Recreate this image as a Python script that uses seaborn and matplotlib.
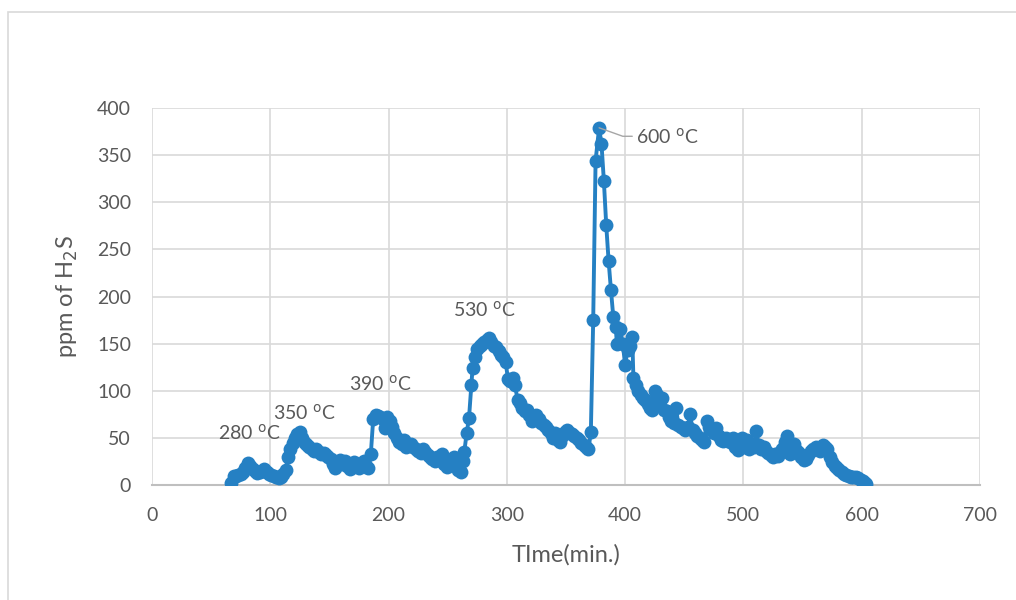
import numpy as np
import pandas as pd
import matplotlib
matplotlib.use("Agg")
import matplotlib.pyplot as plt
from matplotlib.patches import Rectangle
import seaborn as sns

# H2S concentration during stepwise heating (280, 350, 390, 530, 600 °C)
time_280_390 = [67, 69, 71, 73, 75, 77, 79, 81, 83, 85, 87, 89, 91, 93, 95, 97, 99, 101,
                103, 105, 107, 109, 111, 113, 115, 117, 119, 121, 123, 125, 127, 129, 131,
                133, 135, 137, 139, 141, 143, 145, 147, 149, 151, 153, 155, 157, 159, 161,
                163, 165, 167, 169, 171, 173, 175, 177, 179, 181, 183, 185]
ppm_280_390 = [2, 10, 10, 11, 12, 14, 18, 23, 20, 17, 15, 13, 14, 15, 17, 14, 12, 11,
               10, 9, 7, 9, 12, 16, 30, 38, 45, 50, 54, 56, 50, 45, 42,
               40, 38, 36, 38, 35, 33, 34, 32, 30, 28, 22, 18, 24, 26, 22,
               25, 20, 17, 22, 24, 20, 18, 22, 25, 20, 18, 33]

time_390_600 = [187, 189, 191, 193, 195, 197, 199, 201, 203, 205, 207, 209, 211, 213, 215,
                217, 219, 221, 223, 225, 227, 229, 231, 233, 235, 237, 239, 241, 243, 245,
                247, 249, 251, 253, 255, 257, 259, 261, 263, 264, 266, 268, 270, 271, 273,
                275, 277, 279, 281, 283, 285, 287, 289, 291, 293, 295, 297, 299, 301, 303,
                305, 307, 309, 311, 313, 315, 317, 319, 321, 323, 325, 327, 329, 331, 333,
                335, 337, 339, 341, 343, 345, 347, 349, 351, 353, 355, 357, 359, 361, 363,
                365, 367, 369, 371]
ppm_390_600 = [70, 74, 73, 72, 70, 60, 72, 68, 62, 55, 50, 46, 44, 48, 40,
               42, 44, 40, 38, 36, 34, 38, 35, 32, 30, 28, 25, 30, 27, 33,
               22, 19, 24, 28, 30, 22, 16, 14, 25, 35, 55, 71, 106, 124, 136,
               144, 148, 150, 152, 154, 156, 152, 148, 146, 142, 138, 136, 130, 112, 110,
               114, 106, 90, 87, 82, 78, 80, 74, 68, 72, 74, 70, 66, 64, 62,
               58, 55, 50, 55, 48, 46, 52, 56, 58, 55, 54, 52, 50, 48, 45,
               42, 40, 38, 56]

time_600 = [373, 375, 378, 380, 382, 384, 386, 388, 390, 392, 393, 396, 398, 400, 402,
            404, 406, 407, 409, 411, 413, 415, 417, 419, 421, 423, 425, 427, 429, 431,
            433, 435, 437, 439, 441, 443, 445, 447, 449, 451, 453, 455, 457, 459, 461,
            463, 465, 467, 469, 471, 473, 475, 477, 479, 481, 483, 485, 487, 489, 491,
            493, 495, 497, 499, 501, 503, 505, 507, 509, 511, 513, 515, 517, 519, 521,
            523, 525, 527, 529, 531, 533, 535, 537, 539, 541, 543, 545, 547, 549, 551,
            553, 555, 557, 559, 561, 563, 565, 567, 569, 571, 573, 575, 577, 579, 581,
            583, 585, 587, 589, 591, 593, 595, 597, 599, 601, 603, 604]
ppm_600 = [175, 344, 379, 362, 323, 276, 238, 207, 178, 168, 150, 165, 150, 127, 143,
           148, 157, 113, 106, 100, 96, 92, 90, 86, 82, 80, 100, 95, 88, 92,
           80, 78, 72, 68, 66, 82, 64, 62, 60, 58, 62, 75, 58, 55, 52,
           50, 48, 46, 68, 62, 58, 55, 60, 52, 48, 47, 50, 48, 46, 50,
           40, 37, 45, 50, 40, 48, 38, 44, 40, 57, 42, 38, 40, 36, 34,
           32, 30, 33, 31, 35, 38, 46, 52, 33, 38, 44, 36, 34, 30, 27,
           28, 32, 36, 38, 40, 38, 36, 42, 40, 38, 30, 24, 20, 18, 16,
           14, 12, 11, 10, 9, 8, 8, 7, 5, 4, 2, 1]

temp_labels = ["280 $^{\\mathrm{o}}$C", "350 $^{\\mathrm{o}}$C", "390 $^{\\mathrm{o}}$C",
               "530 $^{\\mathrm{o}}$C", "600 $^{\\mathrm{o}}$C"]
label_time = [82, 129, 193, 281, 409]
label_ppm = [56, 77, 107, 186, 370]

x_ticks = [0, 100, 200, 300, 400, 500, 600, 700]
y_ticks = [0, 50, 100, 150, 200, 250, 300, 350, 400]

df = pd.DataFrame({
    "time": time_280_390 + time_390_600 + time_600,
    "ppm": ppm_280_390 + ppm_390_600 + ppm_600,
})

sns.set_theme(style="white")
plt.rcParams["font.family"] = ["Lato", "DejaVu Sans"]

blue = "#2580C3"
text_grey = "#595959"

fig = plt.figure(figsize=(10.16, 6.0), dpi=100)
ax = fig.add_axes([152 / 1016, 1 - 485 / 600, (980 - 152) / 1016, (485 - 108) / 600])

# chart-area frame
fig.patches.append(Rectangle((8 / 1016, -0.1), 1.2, 1 - 12 / 600 + 0.1,
                             transform=fig.transFigure, fill=False,
                             edgecolor="#D9D9D9", linewidth=1.2, zorder=0))

sns.lineplot(data=df, x="time", y="ppm", ax=ax, color=blue, linewidth=2.8,
             marker="o", markersize=10, markeredgewidth=0, estimator=None,
             sort=False, zorder=3)

ax.set_xlim(0, 700)
ax.set_ylim(0, 400)
ax.set_xticks(x_ticks)
ax.set_yticks(y_ticks)
ax.grid(True, color="#D9D9D9", linewidth=1.2)
ax.set_axisbelow(True)
for side in ["top", "right", "left"]:
    ax.spines[side].set_visible(False)
ax.spines["bottom"].set_color("#BFBFBF")
ax.spines["bottom"].set_linewidth(1.5)
ax.tick_params(length=0, labelsize=14, colors=text_grey)
ax.tick_params(axis="x", pad=16)
ax.tick_params(axis="y", pad=15)

ax.set_xlabel("TIme(min.)", fontsize=17, color=text_grey, labelpad=14)
ax.set_ylabel("ppm of H$_2$S", fontsize=17, color=text_grey, labelpad=12)

for i, (lab, tx, ty) in enumerate(zip(temp_labels, label_time, label_ppm)):
    ha = "left" if i == 4 else "center"
    ax.text(tx, ty, lab, fontsize=14, color=text_grey, ha=ha, va="center",
            zorder=5)

# leader line to the 600 °C peak
peak_t, peak_v = time_600[2], ppm_600[2]
ax.plot([peak_t, 398, 406], [peak_v, 370, 370], color="#A6A6A6", linewidth=1.0,
        zorder=4)

fig.savefig("out.png", dpi=100, facecolor="white")
